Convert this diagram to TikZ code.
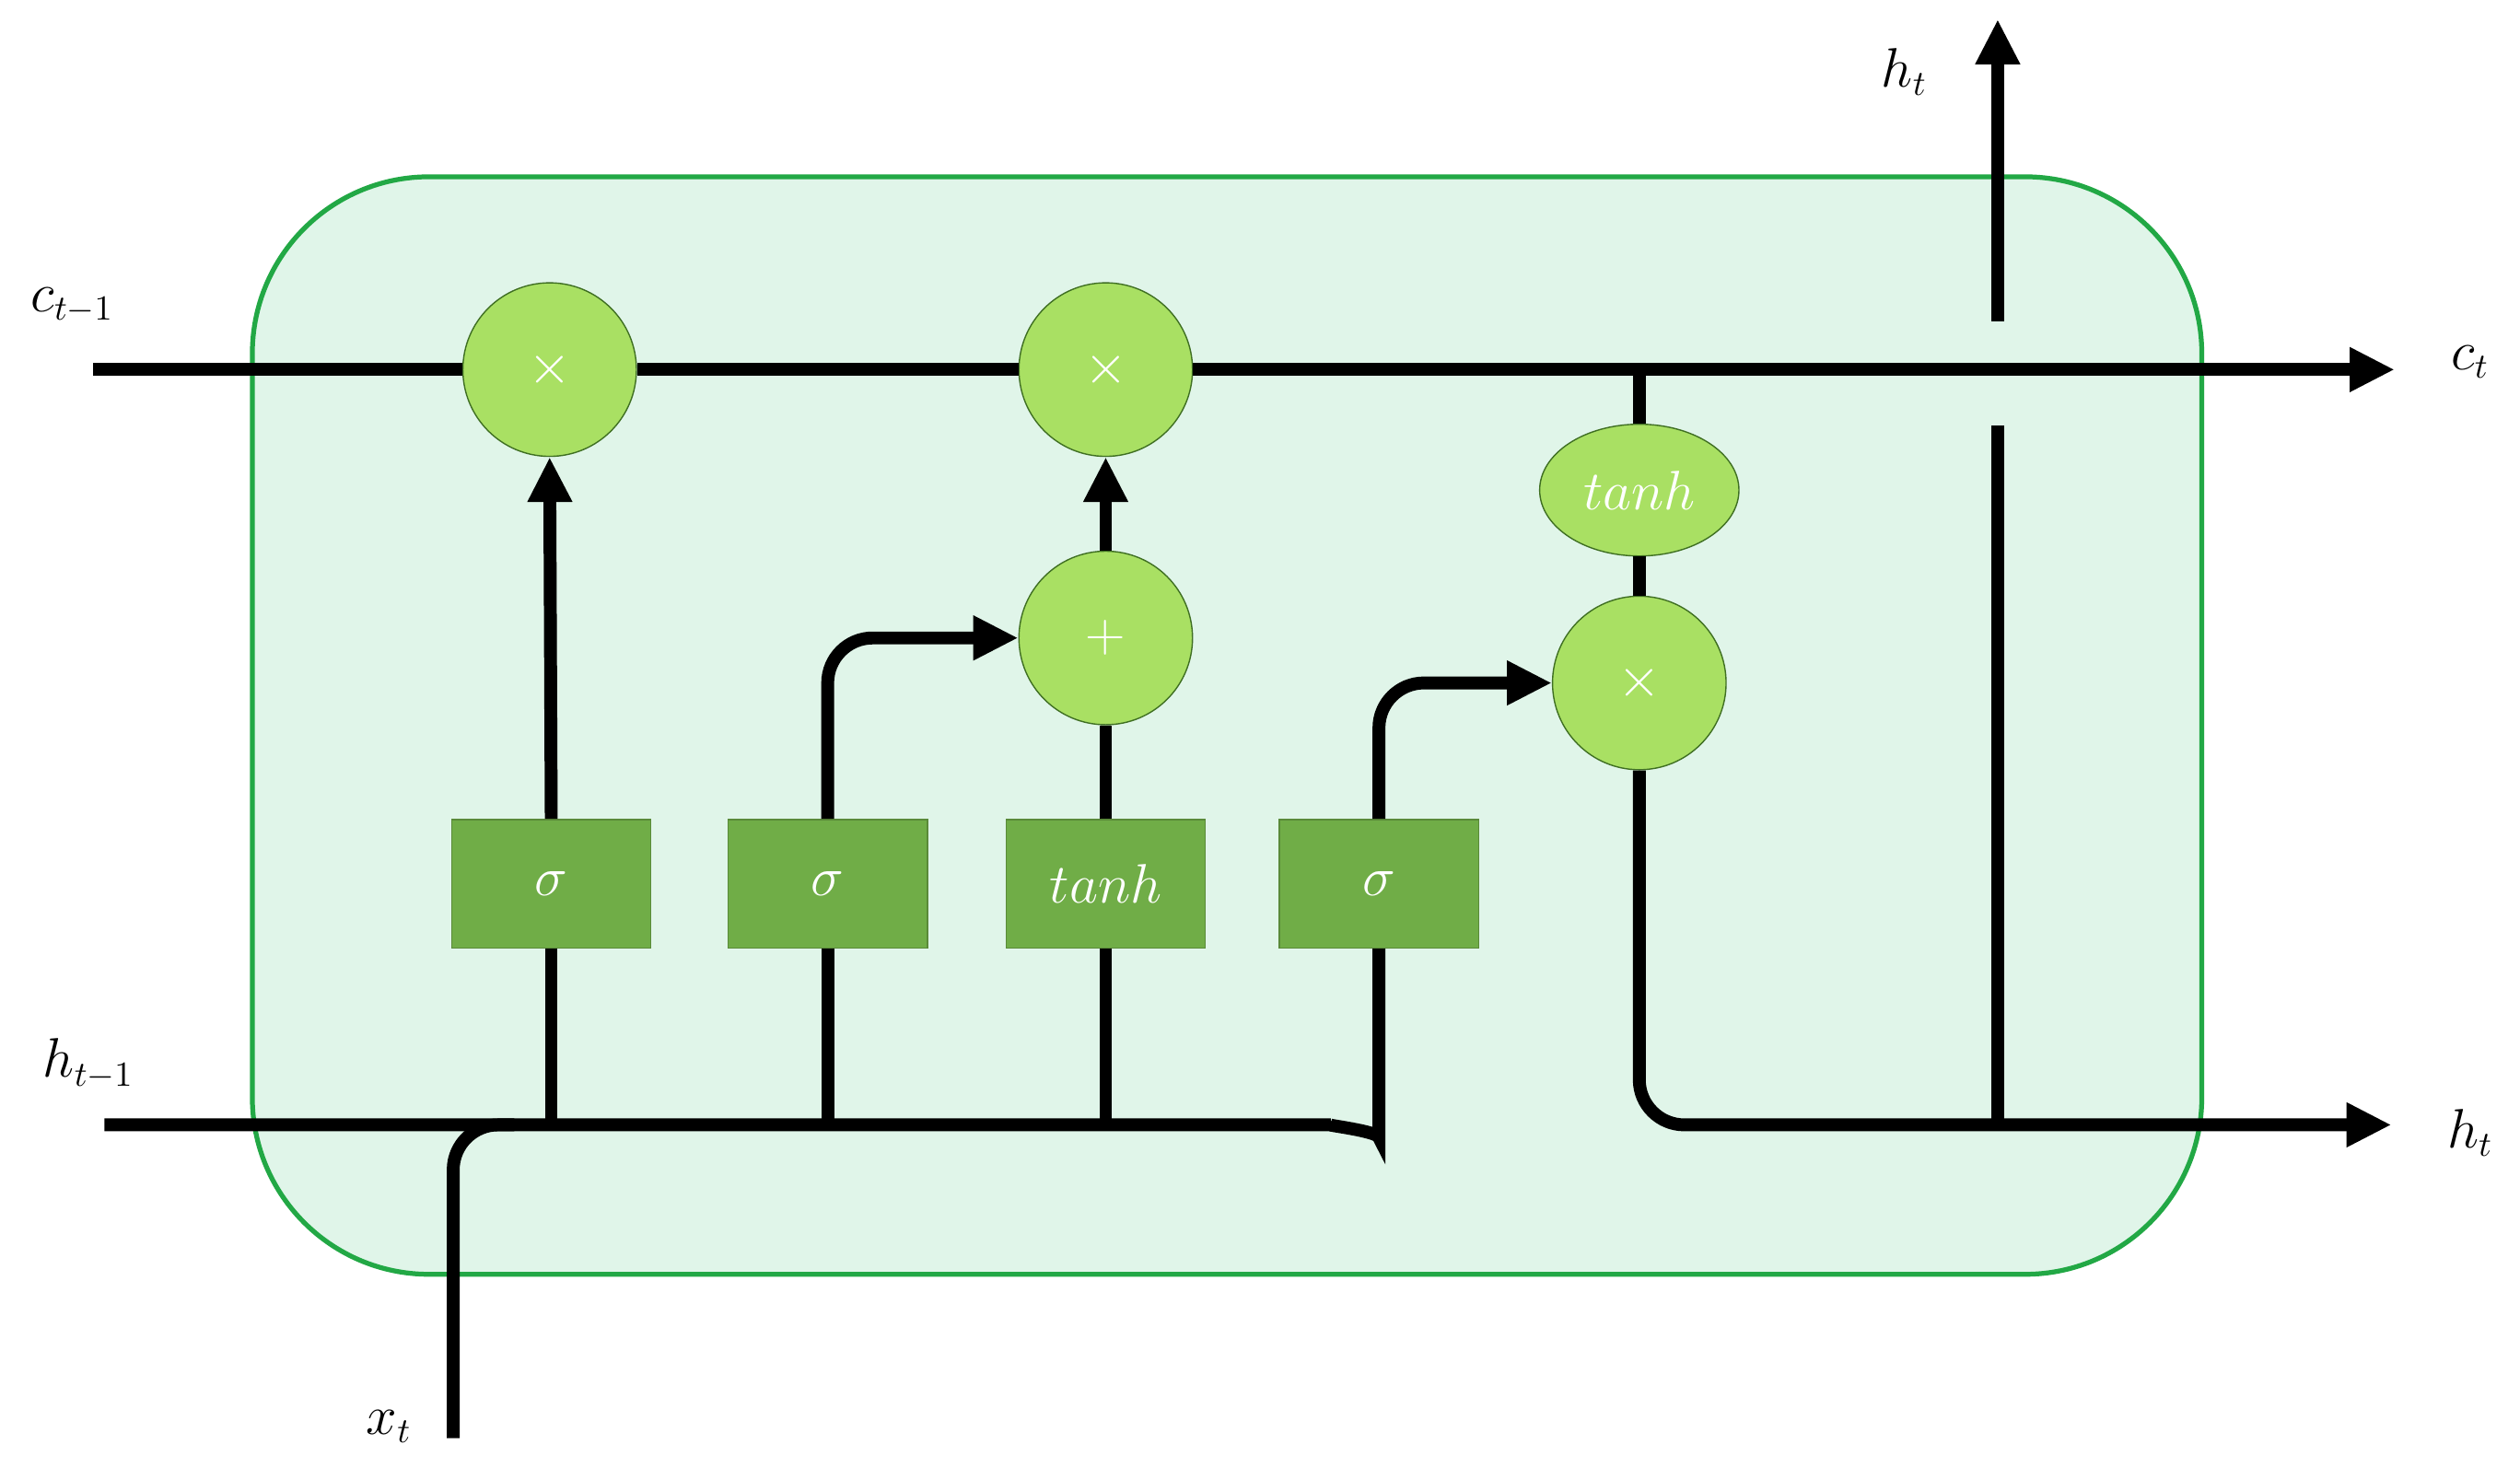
\documentclass[tikz,border=0pt]{standalone}
\usepackage{amsmath}
\usetikzlibrary{arrows.meta}
\usetikzlibrary{positioning}
\usetikzlibrary{shapes}
\definecolor{cellfill}{HTML}{E0F5E9}
\definecolor{celledge}{HTML}{22A845}
\definecolor{opfill}{HTML}{A9E063}
\definecolor{opedge}{HTML}{3F6F22}
\definecolor{gatefill}{HTML}{70AD47}
\begin{document}
\begin{tikzpicture}[
		x=0.5pt,
		y=-0.5pt,
		font=\fontsize{16pt}{18pt}\selectfont,
		>={Triangle[length=14pt,width=13pt]},
		wire/.style={line width=4pt, rounded corners=14pt},
		op/.style={circle, draw=opedge, fill=opfill, minimum size=54pt, inner sep=0, text=white},
		gate/.style={rectangle, draw=gatefill!80!black, fill=gatefill, minimum width=62pt, minimum height=40pt, text=white},
		squash/.style={ellipse, draw=opedge, fill=opfill, minimum width=62pt, minimum height=41pt, inner sep=0, text=white},
		lbl/.style={inner sep=0}
	]
		\useasboundingbox (0,0) rectangle (1568,920);
		\draw[celledge, fill=cellfill, line width=1.5pt, rounded corners=55pt] (157,110) rectangle (1370,793);

		% gates and operators
		\node[gate] (forget) at (343,550) {$\sigma$};
		\node[gate] (input) at (515,550) {$\sigma$};
		\node[gate] (cand) at (688,550) {$tanh$};
		\node[gate] (output) at (858,550) {$\sigma$};
		\node[op] (mulf) at (342,230) {$\times$};
		\node[op] (muli) at (688,230) {$\times$};
		\node[op] (add) at (688,397) {$+$};
		\node[op] (mulo) at (1020,425) {$\times$};
		\node[squash] (ctanh) at (1020,305) {$tanh$};

		% labels and ends
		\node[lbl] (cin) at (45,190) {$c_{t-1}$};
		\node[lbl] (cout) at (1537,225) {$c_t$};
		\node[lbl] (hin) at (55,662) {$h_{t-1}$};
		\node[lbl] (hout) at (1537,705) {$h_t$};
		\node[lbl] (hup) at (1185,45) {$h_t$};
		\node[lbl] (xin) at (242,888) {$x_t$};
		\coordinate (cstart) at (58,230);
		\coordinate (cend) at (1490,230);
		\coordinate (hstart) at (65,700);
		\coordinate (hend) at (1488,700);
		\coordinate (xstart) at (282,895);
		\coordinate (topend) at (1243,12);

		% cell state
		\draw[wire] (cstart) -- (mulf) -- (muli) -- (1020,230);
		\draw[wire,->] (1015,230) -- (cend);
		\draw[wire] (1020,230) -- (ctanh);
		\draw[wire] (ctanh) -- (mulo);

		% hidden input
		\draw[wire] (hstart) -- (800,700) to[out=0,in=-90] (858,680) -- (output.south);
		\draw[wire] (xstart) -- (282,700) -- (320,700);
		\draw[wire] (343,700) -- (forget.south);
		\draw[wire] (515,700) -- (input.south);
		\draw[wire] (688,700) -- (cand.south);

		% gate paths
		\draw[wire,->] (forget.north) -- (mulf.south);
		\draw[wire,->] (input.north) |- (add.west);
		\draw[wire] (cand.north) -- (add.south);
		\draw[wire,->] (add.north) -- (muli.south);
		\draw[wire,->] (output.north) |- (mulo.west);

		% output
		\draw[wire,->] (mulo.south) |- (hend);
		\draw[wire] (1243,700) -- (1243,265);
		\draw[wire,->] (1243,200) -- (topend);
	\end{tikzpicture}
\end{document}
